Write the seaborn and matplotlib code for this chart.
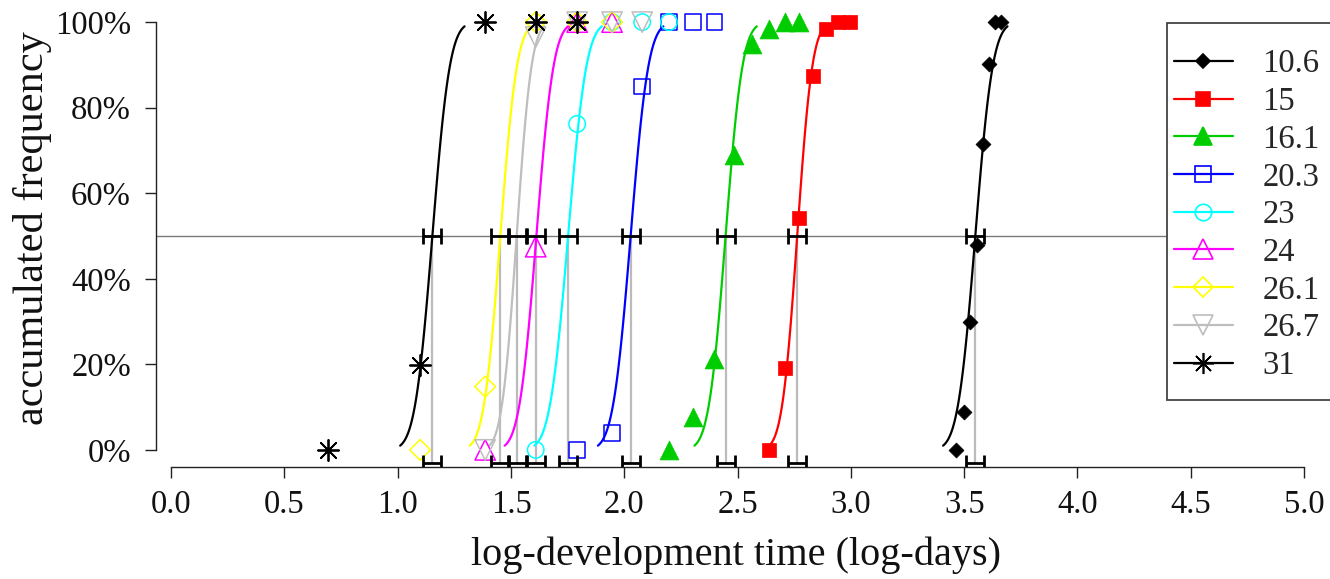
import math
import numpy as np
import pandas as pd
import matplotlib
matplotlib.use("Agg")
import matplotlib.pyplot as plt
import seaborn as sns
from matplotlib.lines import Line2D
from matplotlib.patches import Rectangle

# ---------------- data ----------------
temps = ["10.6", "15", "16.1", "20.3", "23", "24", "26.1", "26.7", "31"]
colors = ["black", "red", "#00CD00", "blue", "cyan", "magenta", "yellow", "#BEBEBE", "black"]

# observed accumulated frequency (%) at log-development time (log-days)
x_106 = [3.466, 3.497, 3.526, 3.555, 3.584, 3.611, 3.638, 3.664]
y_106 = [0, 8.8, 30.0, 47.9, 71.5, 90.3, 100, 100]
x_15 = [2.639, 2.708, 2.773, 2.833, 2.890, 2.944, 2.996]
y_15 = [0, 19.2, 54.1, 87.5, 98.3, 100, 100]
x_161 = [2.197, 2.303, 2.398, 2.485, 2.565, 2.639, 2.708, 2.773]
y_161 = [0, 7.8, 21.2, 68.9, 95.0, 98.5, 100, 100]
x_203 = [1.792, 1.946, 2.079, 2.197, 2.303, 2.398]
y_203 = [0, 3.9, 85.0, 100, 100, 100]
x_23 = [1.609, 1.792, 1.946, 2.079, 2.197]
y_23 = [0, 76.2, 100, 100, 100]
x_24 = [1.386, 1.609, 1.792, 1.946]
y_24 = [0, 47.5, 100, 100]
x_261 = [1.099, 1.386, 1.609, 1.792, 1.946]
y_261 = [0, 14.8, 100, 100, 100]
x_267 = [1.386, 1.609, 1.792, 1.946, 2.079]
y_267 = [0, 96.5, 100, 100, 100]
x_31 = [0.693, 1.099, 1.386, 1.609, 1.792]
y_31 = [0, 19.9, 100, 100, 100]

# fitted median log-development time, spread and CI half-width
mu = [3.549, 2.763, 2.447, 2.028, 1.752, 1.612, 1.453, 1.525, 1.153]
sigma = [0.061, 0.053, 0.059, 0.062, 0.064, 0.060, 0.058, 0.052, 0.061]
ci = [0.04, 0.04, 0.04, 0.04, 0.04, 0.04, 0.04, 0.04, 0.04]

xs = [x_106, x_15, x_161, x_203, x_23, x_24, x_261, x_267, x_31]
ys = [y_106, y_15, y_161, y_203, y_23, y_24, y_261, y_267, y_31]

x_ticks = [0.0, 0.5, 1.0, 1.5, 2.0, 2.5, 3.0, 3.5, 4.0, 4.5, 5.0]
y_ticks = [0, 20, 40, 60, 80, 100]

# marker styles: (marker, filled, scatter size)
markers = ["D", "s", "^", "s", "o", "^", "D", "v", (8, 2, 0)]
filled = [True, True, True, False, False, False, False, False, True]
msize = [58, 100, 185, 125, 140, 215, 112, 215, 230]

# ---------------- figure ----------------
sns.set_style("white")
plt.rcParams["font.family"] = ["Liberation Serif", "DejaVu Serif"]

W, H = 1330, 579
fig = plt.figure(figsize=(W / 100, H / 100), dpi=100)
ax_l, ax_r, ax_t, ax_b = 156, 1330, 5, 467
ax = fig.add_axes([ax_l / W, (H - ax_b) / H, (ax_r - ax_l) / W, (ax_b - ax_t) / H])

x_min = (ax_l - 171.1) / 226.6
x_max = (ax_r - 171.1) / 226.6
ax.set_xlim(x_min, x_max)
ax.set_ylim(-4, 104)

# 50% reference line
ax.axhline(50, color="#7a7a7a", lw=1.0, zorder=1)

# vertical medians and CI bars
bar_y_low = -3.0
cap_h = 1.9
for m, c in zip(mu, ci):
    ax.plot([m, m], [bar_y_low, 50], color="#BBBBBB", lw=1.6, zorder=1.5)
    for yb in (50, bar_y_low):
        ax.plot([m - c, m + c], [yb, yb], color="black", lw=2.0, zorder=4, solid_capstyle="butt")
        for xe in (m - c, m + c):
            ax.plot([xe, xe], [yb - cap_h, yb + cap_h], color="black", lw=2.0, zorder=4,
                    solid_capstyle="butt")

# fitted curves
for i in range(len(temps)):
    xg = np.linspace(mu[i] - 2.33 * sigma[i], mu[i] + 2.33 * sigma[i], 120)
    yg = [50.0 * (1.0 + math.erf((v - mu[i]) / (sigma[i] * math.sqrt(2.0)))) for v in xg]
    df_c = pd.DataFrame({"x": xg, "y": yg})
    sns.lineplot(data=df_c, x="x", y="y", color=colors[i], lw=1.6, sort=False,
                 estimator=None, ax=ax, zorder=2)

# observed points
for i in range(len(temps)):
    df_p = pd.DataFrame({"x": xs[i], "y": ys[i]})
    kw = dict(marker=markers[i], s=msize[i], zorder=3, ax=ax)
    if markers[i] == (8, 2, 0):
        sns.scatterplot(data=df_p, x="x", y="y", color=colors[i], linewidth=1.3, **kw)
    elif filled[i]:
        sns.scatterplot(data=df_p, x="x", y="y", color=colors[i], edgecolor=colors[i],
                        linewidth=0.5, **kw)
    else:
        sns.scatterplot(data=df_p, x="x", y="y", color=colors[i], facecolor="none",
                        edgecolor=colors[i], linewidth=1.1, **kw)

# axes styling (R-like)
for s in ["top", "right"]:
    ax.spines[s].set_visible(False)
for s in ["left", "bottom"]:
    ax.spines[s].set_color("#222222")
    ax.spines[s].set_linewidth(1.0)
ax.spines["left"].set_bounds(0, 100)
ax.spines["bottom"].set_bounds(0, 5)

ax.set_xticks(x_ticks)
ax.set_xticklabels([f"{v:.1f}" for v in x_ticks])
ax.set_yticks(y_ticks)
ax.set_yticklabels([f"{v}%" for v in y_ticks])
ax.tick_params(axis="both", which="major", direction="out", length=8, width=1.0,
               color="#222222", labelsize=23.5, labelcolor="#111111",
               left=True, bottom=True)
ax.tick_params(axis="y", pad=10)
ax.tick_params(axis="x", pad=8)

ax.set_xlabel("log-development time (log-days)", fontsize=29, color="#111111", labelpad=12)
ax.set_ylabel("accumulated frequency", fontsize=30.5, color="#111111", labelpad=2)
ax.xaxis.label.set_x(0.494)
ax.yaxis.label.set_y(0.518)
ax.grid(False)

# legend
handles = []
for i in range(len(temps)):
    fc = colors[i] if filled[i] else "none"
    handles.append(Line2D([0], [0], color=colors[i], lw=1.6, marker=markers[i],
                          markersize=math.sqrt(msize[i]), markerfacecolor=fc,
                          markeredgecolor=colors[i], markeredgewidth=1.2))
box_l, box_t, box_b = 1167, 23, 400
fig.patches.append(Rectangle((box_l / W, (H - box_b) / H), (W + 20 - box_l) / W,
                             (box_b - box_t) / H, transform=fig.transFigure,
                             facecolor="white", edgecolor="#444444", lw=1.3, zorder=1))
fig.legend(handles, temps, loc="upper left",
           bbox_to_anchor=(1174 / W, (H - 49) / H), bbox_transform=fig.transFigure,
           frameon=False, fontsize=23.5, handlelength=1.8, handletextpad=0.9,
           labelspacing=0.22, borderpad=0.0, borderaxespad=0.0)

fig.savefig("out.png", dpi=100)
